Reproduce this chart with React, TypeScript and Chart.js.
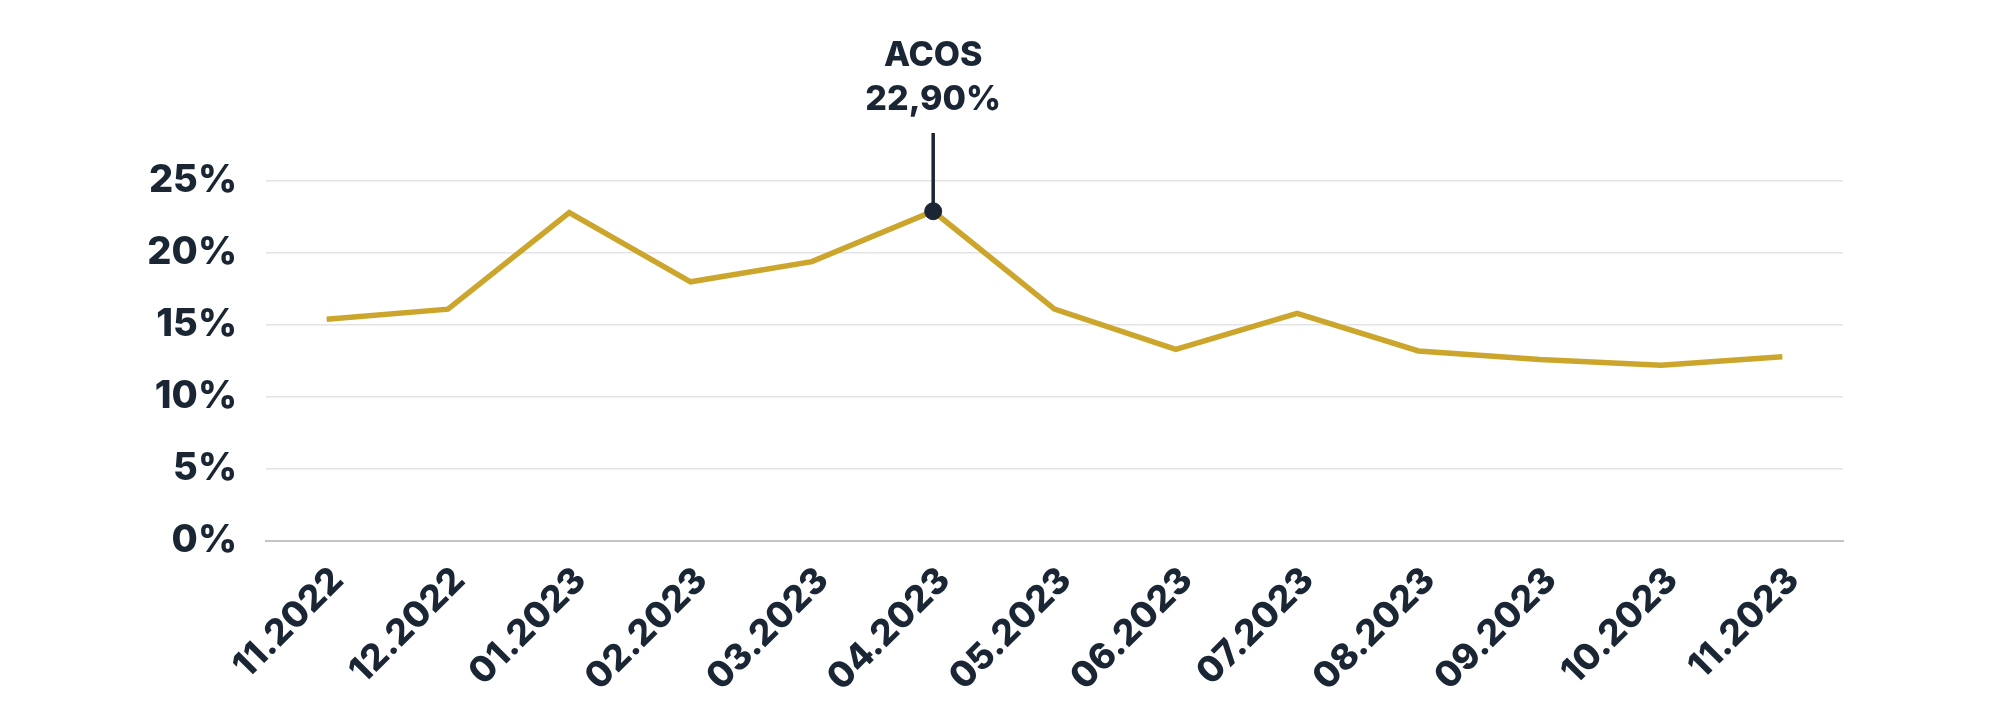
import React, { useEffect, useRef } from "react";
import { Chart, registerables } from "chart.js";

Chart.register(...registerables);

const categories = [
  "11.2022", "12.2022", "01.2023", "02.2023", "03.2023", "04.2023", "05.2023",
  "06.2023", "07.2023", "08.2023", "09.2023", "10.2023", "11.2023",
];
const acosValues = [15.4, 16.1, 22.8, 18.0, 19.4, 22.9, 16.1, 13.3, 15.8, 13.2, 12.6, 12.2, 12.8];
const yTicks = [0, 5, 10, 15, 20, 25];
const seriesName = "ACOS";
const highlightIndex = 5;

const DARK = "#1a2634";
const GOLD = "#cca62c";
const FONT = "Inter, 'Noto Sans', sans-serif";

const annotationPlugin = {
  id: "peakAnnotation",
  afterDatasetsDraw(chart: any) {
    const meta = chart.getDatasetMeta(0);
    const pt = meta.data[highlightIndex];
    if (!pt) return;
    const ctx = chart.ctx;
    const lineTop = chart.chartArea.top - 48;
    ctx.save();
    ctx.strokeStyle = DARK;
    ctx.lineWidth = 3.5;
    ctx.beginPath();
    ctx.moveTo(pt.x, pt.y);
    ctx.lineTo(pt.x, lineTop);
    ctx.stroke();
    ctx.fillStyle = DARK;
    ctx.textAlign = "center";
    ctx.textBaseline = "alphabetic";
    ctx.font = `800 34px ${FONT}`;
    const v = acosValues[highlightIndex].toFixed(2).replace(".", ",") + "%";
    ctx.fillText(seriesName, pt.x, lineTop - 67);
    ctx.fillText(v, pt.x, lineTop - 23);
    ctx.restore();
  },
};

export default function App() {
  const ref = useRef<HTMLCanvasElement | null>(null);

  useEffect(() => {
    document.body.style.margin = "0";
    if (!ref.current) return;
    const chart = new Chart(ref.current, {
      type: "line",
      data: {
        labels: categories,
        datasets: [
          {
            label: seriesName,
            data: acosValues,
            borderColor: GOLD,
            borderWidth: 5.5,
            tension: 0,
            fill: false,
            pointRadius: (c: any) => (c.dataIndex === highlightIndex ? 8.5 : 0),
            pointHoverRadius: 0,
            pointBackgroundColor: DARK,
            pointBorderColor: DARK,
            pointBorderWidth: 1,
          },
        ],
      },
      options: {
        animation: false,
        responsive: false,
        devicePixelRatio: 1,
        layout: { padding: { top: 181, right: 157, left: 0, bottom: 0 } },
        plugins: {
          legend: { display: false },
          tooltip: { enabled: false },
        },
        scales: {
          x: {
            offset: true,
            grid: { display: false, drawTicks: false },
            border: { display: true, color: "#c4c4c4", width: 2 },
            ticks: {
              color: DARK,
              font: { family: FONT, size: 36, weight: "800" },
              maxRotation: 45,
              minRotation: 45,
              padding: 18,
              labelOffset: 11,
              autoSkip: false,
            },
            afterFit: (s: any) => {
              s.height = 175;
            },
          },
          y: {
            min: 0,
            max: 25,
            afterBuildTicks: (s: any) => {
              s.ticks = yTicks.map((v) => ({ value: v }));
            },
            grid: { color: "#e4e4e4", lineWidth: 1.5, drawTicks: false },
            border: { display: false },
            ticks: {
              color: DARK,
              font: { family: FONT, size: 38, weight: "800" },
              padding: 29,
              callback: (v: any) => `${v}%`,
            },
            afterFit: (s: any) => {
              s.width = 266;
            },
          },
        },
      },
      plugins: [annotationPlugin],
    });
    return () => chart.destroy();
  }, []);

  return (
    <div style={{ width: 2000, height: 716, background: "#fff" }}>
      <canvas ref={ref} width={2000} height={716} style={{ width: 2000, height: 716, display: "block" }} />
    </div>
  );
}
